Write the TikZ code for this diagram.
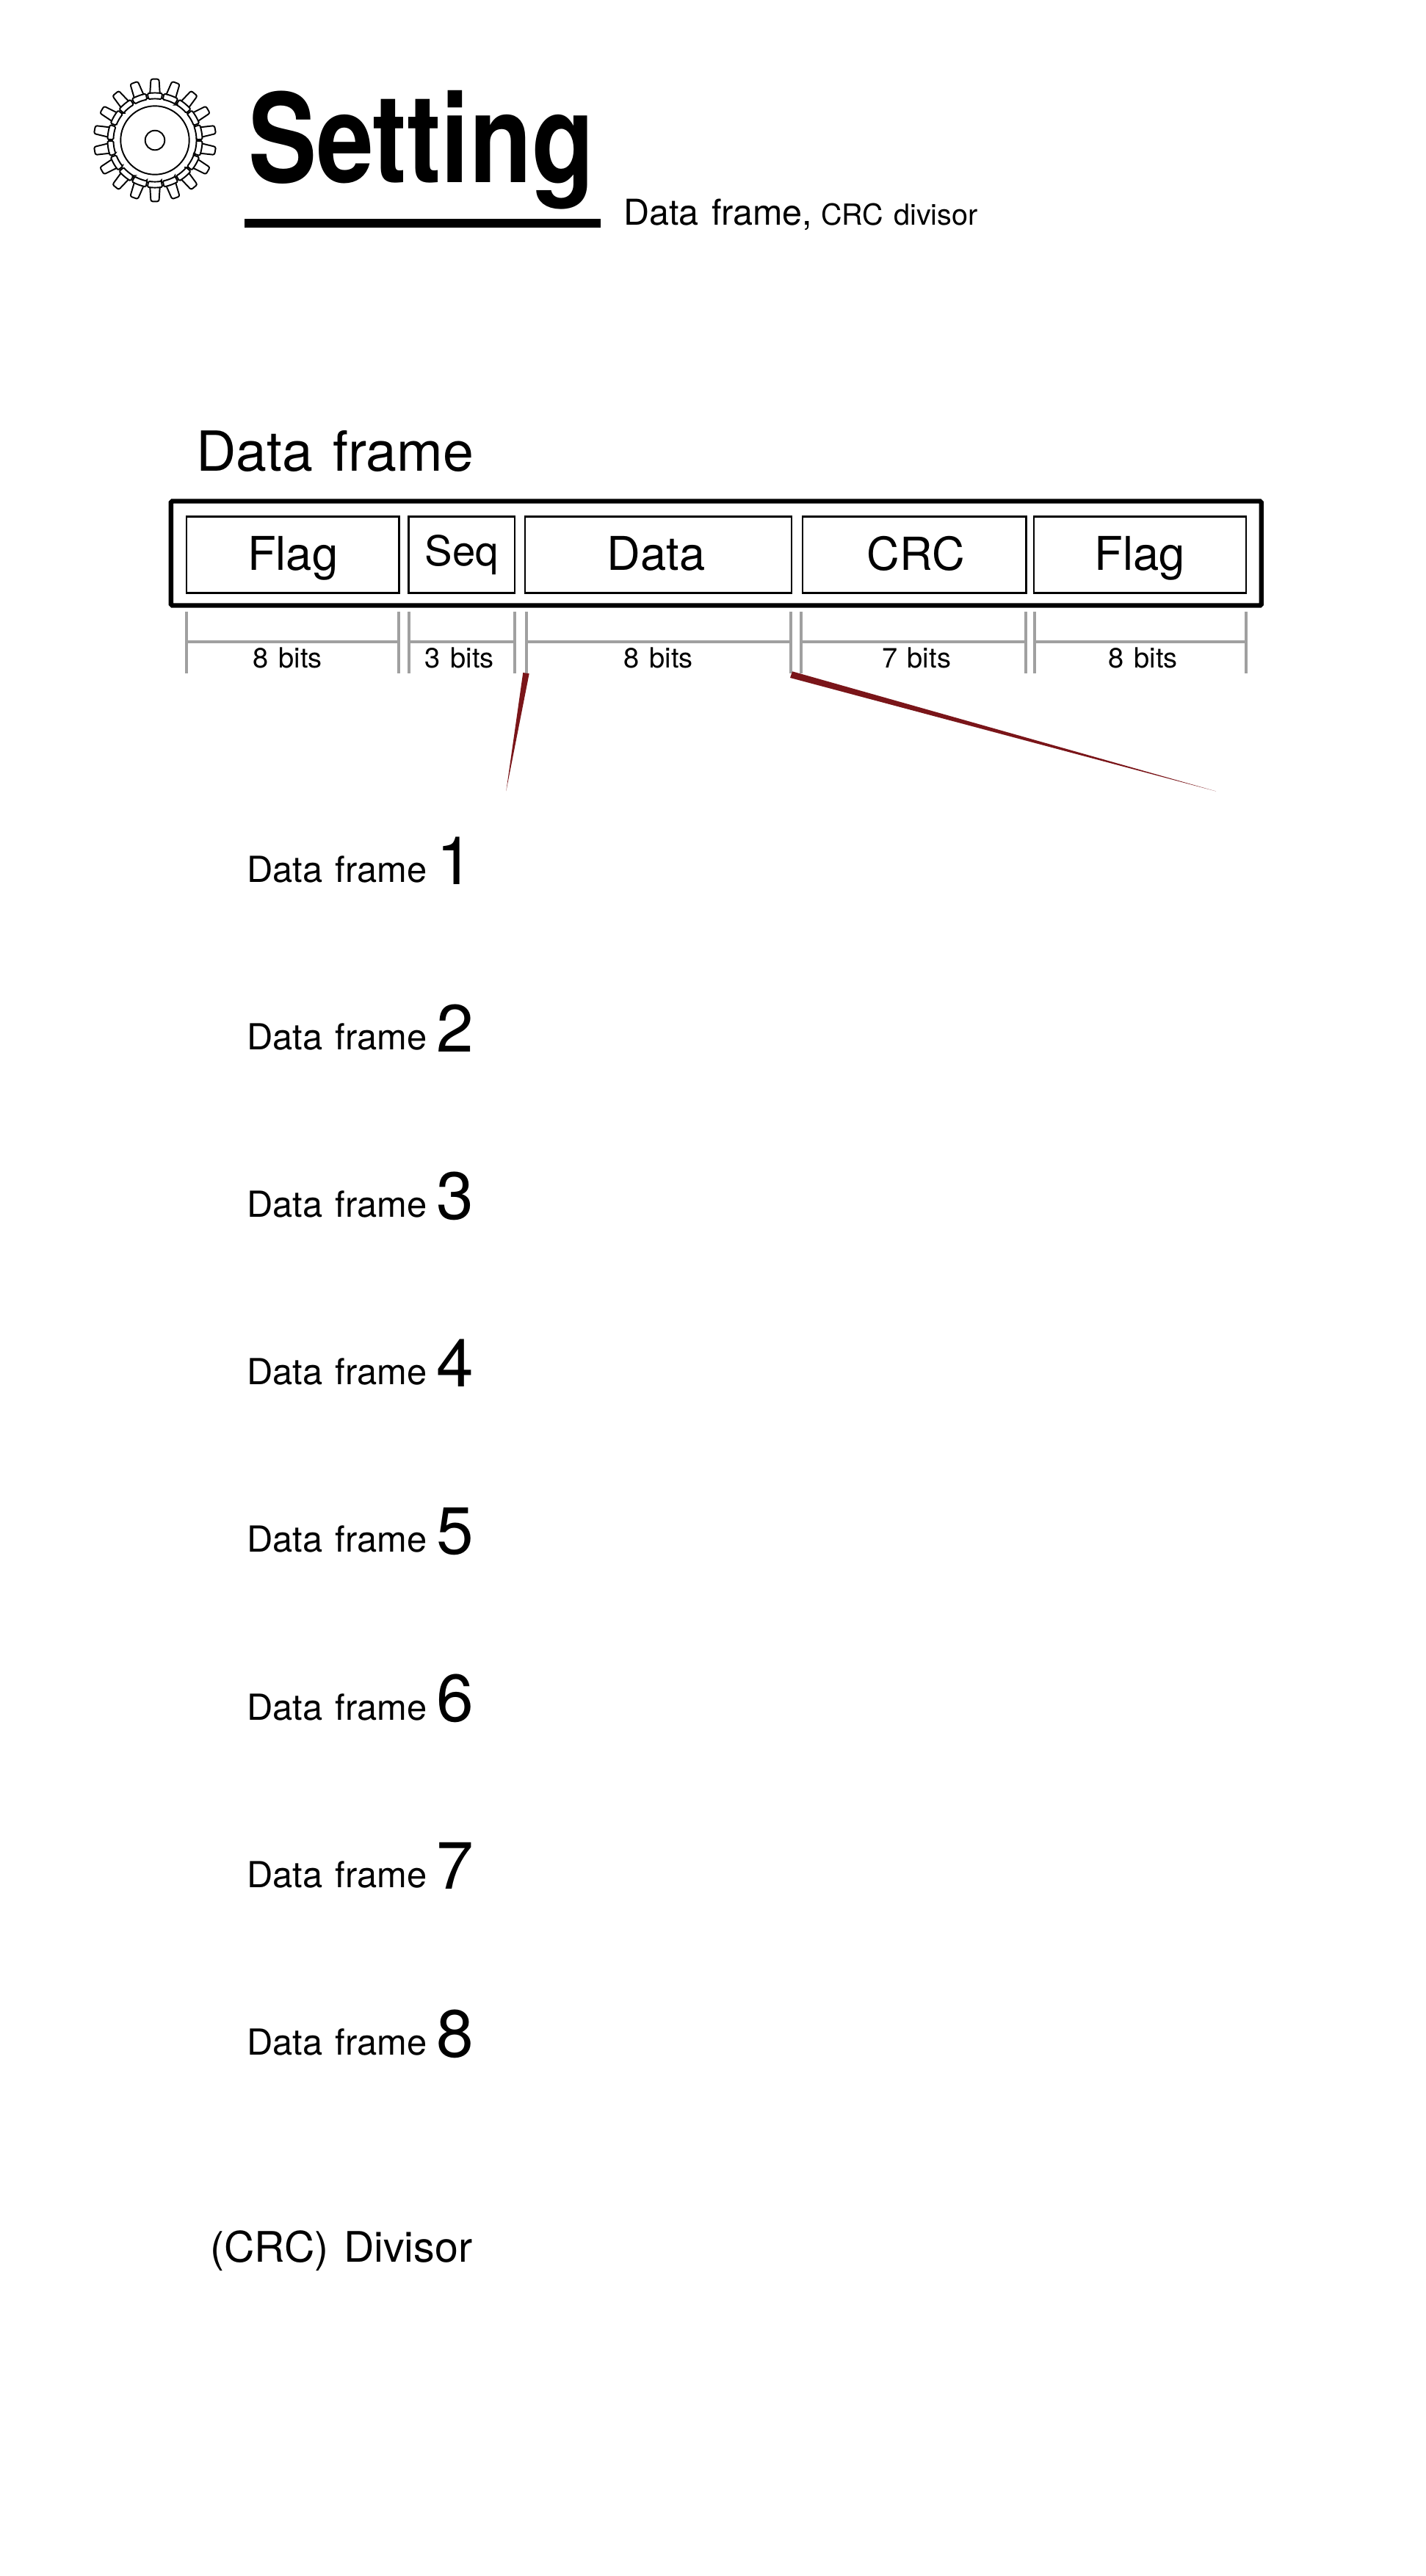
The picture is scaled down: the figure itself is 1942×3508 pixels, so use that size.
\documentclass[tikz,border=0pt]{standalone}
\usepackage{fontspec}
\setmainfont[WordSpace=1.3]{TeX Gyre Heros}
\newfontfamily\titlefont[FakeStretch=0.83]{TeX Gyre Heros}
\usetikzlibrary{positioning}
\definecolor{wedgered}{HTML}{7A1519}
\definecolor{dimgray}{HTML}{A0A0A0}

\begin{document}
\begin{tikzpicture}[x=0.01cm, y=-0.01cm,
  plain text/.style={anchor=base west, inner sep=0pt, outer sep=0pt},
  field box/.style={draw, line width=0.75pt, minimum height=1.04cm, inner sep=0pt, outer sep=0pt, text depth=0pt, text height=12.2pt, font=\fontsize{18}{21}\selectfont},
  frame box/.style={draw, line width=1.8pt, rounded corners=0.5pt, inner sep=0pt, outer sep=0pt},
  dim line/.style={dimgray, line width=1.14pt},
  bits text/.style={plain text, anchor=base, font=\fontsize{10.81}{13}\selectfont},
  gear line/.style={line width=0.55pt}]
\useasboundingbox (0,0) rectangle (1942,3508);

% gear
\begin{scope}[shift={(211,191)}]
\foreach \a in {10,30,...,350}{
  \draw[gear line, rotate=\a, rounded corners=0.7pt] (64.5,-6.7) -- (83.3,-5.5) -- (83.3,5.5) -- (64.5,6.7);
  \draw[gear line, rounded corners=0.4pt] (\a-9:56.5) -- (\a-9:64.5) arc[start angle=\a-9, end angle=\a+9, radius=64.5] -- (\a+9:56.5) arc[start angle=\a+9, end angle=\a-9, radius=56.5] -- cycle;
}
\draw[gear line] (0,0) circle[radius=46.7];
\draw[gear line] (0,0) circle[radius=13.3];
\end{scope}

% title
\node[plain text, font=\fontsize{47.8}{50}\titlefont\bfseries] (title) at (338,248.3) {Setting};
\fill (332.7,297.7) rectangle (818,310);
\node[plain text, font=\fontsize{13.8}{16}\selectfont] (subtitle) at (849,306) {Data frame,};
\node[plain text, font=\fontsize{11.25}{14}\selectfont] (subtitle2) at (1118,306) {CRC divisor};

% data frame
\node[plain text, font=\fontsize{21.4}{24}\selectfont] (framehead) at (267,641) {Data frame};
\node[frame box, minimum width=14.84cm, minimum height=1.42cm] (frame) at (975.3,753.5) {};
\node[field box, minimum width=2.897cm] (flagA) at (398.8,755.5) {Flag};
\node[field box, minimum width=1.445cm, text height=8.25pt, font=\fontsize{16}{19}\selectfont] (seq) at (628.7,755.5) {Seq};
\node[field box, minimum width=3.63cm] (data) at (896.5,755.5) {\hspace{-0.06cm}Data};
\node[field box, minimum width=3.045cm, font=\fontsize{17.6}{20}\selectfont] (crc) at (1245.2,755.5) {\hspace{0.04cm}CRC};
\node[field box, minimum width=2.89cm] (flagB) at (1552.5,755.5) {Flag};

% bit widths
\foreach \l/\r/\c/\t [count=\i] in {254.3/543/391.7/8 bits, 556.7/701.3/626/3 bits, 716.7/1077.3/896.7/8 bits, 1091/1397/1248/7 bits, 1408.7/1697/1556.7/8 bits}{
  \coordinate (lt\i) at (\l,833);
  \coordinate (lb\i) at (\l,916.7);
  \coordinate (rt\i) at (\r,833);
  \coordinate (rb\i) at (\r,916.7);
  \coordinate (lm\i) at (\l,874.3);
  \coordinate (rm\i) at (\r,874.3);
  \draw[dim line] (lt\i) -- (lb\i) (rt\i) -- (rb\i) (lm\i) -- (rm\i);
  \node[bits text] (bits\i) at (\c,909.3) {\t};
}

% zoom wedges
\coordinate (wa1) at (712.3,916);
\coordinate (wa2) at (720.7,917.3);
\coordinate (wa3) at (689.3,1077.3);
\coordinate (wb1) at (1079,914.3);
\coordinate (wb2) at (1076,923);
\coordinate (wb3) at (1656,1077.5);
\fill[wedgered] (wa1) -- (wa2) -- (wa3) -- cycle;
\fill[wedgered] (wb1) -- (wb2) -- (wb3) -- cycle;

% rows
\foreach \n in {1,...,8}{
  \pgfmathsetmacro{\rowy}{1201.3+228.14*(\n-1)}
  \node[plain text, font=\fontsize{13.9}{16}\selectfont] (row\n) at (336,\rowy) {Data frame};
  \node[plain text, font=\fontsize{25.9}{30}\selectfont] (digit\n) at (594,\rowy+2.7) {\n};
}

\node[plain text, font=\fontsize{16.3}{20}\selectfont] (divisor) at (286,3080) {(CRC) Divisor};
\end{tikzpicture}
\end{document}
